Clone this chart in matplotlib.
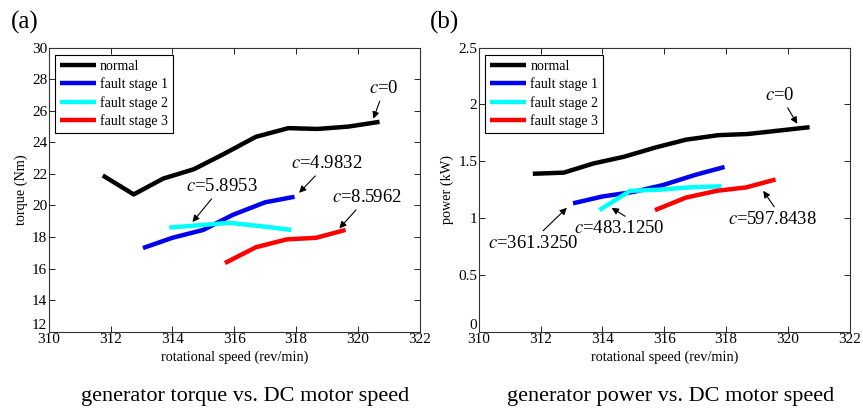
import matplotlib
matplotlib.use("Agg")
import matplotlib.pyplot as plt

plt.rcParams['font.family'] = ['Liberation Serif', 'DejaVu Serif']
plt.rcParams['mathtext.fontset'] = 'stix'

# speeds (rev/min)
normal_x = [311.75, 312.75, 313.7, 314.7, 315.7, 316.7, 317.75, 318.7, 319.7, 320.7]
stage1_x = [313.05, 314.0, 315.0, 315.95, 317.0, 317.95]
stage2_x = [313.9, 314.9, 315.85, 316.8, 317.85]
stage3_x = [315.7, 316.7, 317.7, 318.65, 319.6]

# torque (Nm)
normal_torque = [21.9, 20.7, 21.7, 22.3, 23.3, 24.35, 24.9, 24.85, 25.0, 25.3]
stage1_torque = [17.3, 17.95, 18.45, 19.4, 20.2, 20.55]
stage2_torque = [18.6, 18.75, 18.9, 18.7, 18.45]
stage3_torque = [16.35, 17.35, 17.85, 17.95, 18.45]

# power (kW)
normal_power = [1.39, 1.40, 1.48, 1.54, 1.62, 1.69, 1.73, 1.74, 1.77, 1.80]
stage1_power = [1.13, 1.19, 1.23, 1.29, 1.38, 1.45]
stage2_power = [1.07, 1.24, 1.25, 1.27, 1.28]
stage3_power = [1.07, 1.18, 1.24, 1.27, 1.34]

labels = ['normal', 'fault stage 1', 'fault stage 2', 'fault stage 3']
colors = ['black', '#0000ee', 'cyan', 'red']

fig = plt.figure(figsize=(8.63, 4.11), dpi=100)
ax1 = fig.add_axes([0.0564, 0.193, 0.430, 0.691])
ax2 = fig.add_axes([0.5547, 0.193, 0.430, 0.691])

xs = [normal_x, stage1_x, stage2_x, stage3_x]
for ax, ys in [(ax1, [normal_torque, stage1_torque, stage2_torque, stage3_torque]),
               (ax2, [normal_power, stage1_power, stage2_power, stage3_power])]:
    for x, y, lab, col in zip(xs, ys, labels, colors):
        ax.plot(x, y, color=col, lw=3.2, label=lab, solid_capstyle='butt')
    ax.set_xlim(310, 322)
    ax.set_xticks(range(310, 323, 2))
    ax.tick_params(direction='in', top=True, right=True, labelsize=11, length=4, width=0.6, pad=1)
    for s in ax.spines.values():
        s.set_linewidth(0.8)
        s.set_color('#333333')
    ax.set_xlabel('rotational speed (rev/min)', fontsize=10.3, labelpad=3)
    leg = ax.legend(loc='upper left', bbox_to_anchor=(0.017, 0.974), borderaxespad=0,
                    fontsize=10, fancybox=False, framealpha=1, edgecolor='black',
                    handlelength=2.6, handletextpad=0.3, labelspacing=0.33,
                    borderpad=0.35)
    leg.get_frame().set_linewidth(0.8)

ax1.set_ylim(12, 30)
ax1.set_yticks(range(12, 31, 2))
ax1.set_ylabel('torque (Nm)', fontsize=10.3, labelpad=3)
ax2.set_ylim(0, 2.5)
ax2.set_yticks([0, 0.5, 1, 1.5, 2, 2.5])
ax2.set_yticklabels(['0', '0.5', '1', '1.5', '2', '2.5'])
ax2.set_ylabel('power (kW)', fontsize=10.3, labelpad=3)

# the bottom y tick label sits a little higher, as in the reference
for ax in (ax1, ax2):
    ax.get_yticklabels()[0].set_va('bottom')

def arrow(rel=(0.5, 0.5)):
    return dict(arrowstyle='-|>', color='black', lw=0.8, mutation_scale=10,
                shrinkA=1, shrinkB=0, relpos=rel)

ann = dict(fontsize=13.5, ha='center', va='center')

ax1.annotate(r'$c$=0', xy=(320.5, 25.5), xytext=(320.85, 27.4), arrowprops=arrow(), **ann)
ax1.annotate(r'$c$=4.9832', xy=(318.1, 20.8), xytext=(319.0, 22.65), arrowprops=arrow(), **ann)
ax1.annotate(r'$c$=5.8953', xy=(314.65, 18.95), xytext=(315.6, 21.2), arrowprops=arrow(), **ann)
ax1.annotate(r'$c$=8.5962', xy=(319.4, 18.55), xytext=(320.3, 20.5), arrowprops=arrow(), **ann)

ax2.annotate(r'$c$=0', xy=(320.3, 1.83), xytext=(319.75, 2.08), arrowprops=arrow(), **ann)
ax2.annotate(r'$c$=361.3250', xy=(312.85, 1.09), xytext=(311.75, 0.78),
             arrowprops=arrow((0.57, 1.0)), **ann)
ax2.annotate(r'$c$=483.1250', xy=(314.3, 1.09), xytext=(314.55, 0.91),
             arrowprops=arrow((0.64, 0.95)), **ann)
ax2.annotate(r'$c$=597.8438', xy=(319.2, 1.24), xytext=(319.5, 0.99),
             arrowprops=arrow((0.55, 1.0)), **ann)

fig.text(0.029, 0.945, '(a)', fontsize=18, ha='center', va='center')
fig.text(0.515, 0.945, '(b)', fontsize=18, ha='center', va='center')
fig.text(0.284, 0.035, 'generator torque vs. DC motor speed', fontsize=16, ha='center', va='center')
fig.text(0.777, 0.035, 'generator power vs. DC motor speed', fontsize=16, ha='center', va='center')

fig.savefig('out.png', dpi=100)
